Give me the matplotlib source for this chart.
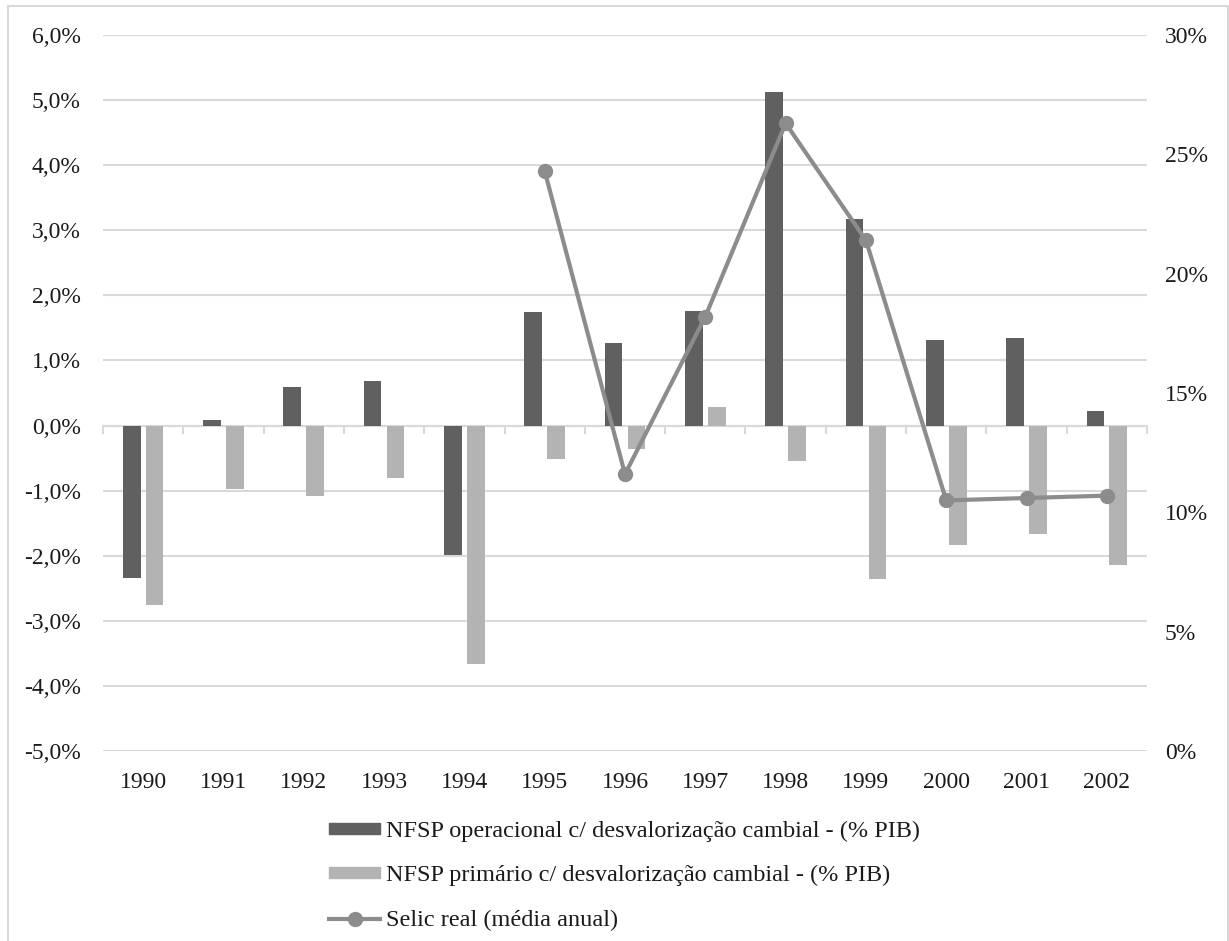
import numpy as np
import matplotlib
matplotlib.use("Agg")
import matplotlib.pyplot as plt
from matplotlib.ticker import FuncFormatter, FixedLocator
from matplotlib.patches import Rectangle

plt.rcParams['font.family'] = ['Liberation Serif', 'DejaVu Serif']

# data
anos = ['1990', '1991', '1992', '1993', '1994', '1995', '1996',
        '1997', '1998', '1999', '2000', '2001', '2002']
nfsp_operacional = [-2.34, 0.08, 0.59, 0.68, -1.99, 1.74, 1.27,
                    1.76, 5.13, 3.17, 1.32, 1.35, 0.23]
nfsp_primario = [-2.75, -0.98, -1.09, -0.81, -3.67, -0.51, -0.36,
                 0.28, -0.54, -2.36, -1.84, -1.67, -2.15]
selic_anos = ['1995', '1996', '1997', '1998', '1999', '2000', '2001', '2002']
selic_real = [24.3, 11.6, 18.2, 26.3, 21.4, 10.5, 10.6, 10.7]

label_op = 'NFSP operacional c/ desvalorização cambial - (% PIB)'
label_pr = 'NFSP primário c/ desvalorização cambial - (% PIB)'
label_selic = 'Selic real (média anual)'

cor_escura = '#606060'
cor_clara = '#b3b3b3'
cor_linha = '#8c8c8c'
cor_grade = '#d9d9d9'
cor_texto = '#1a1a1a'

W, H = 1229, 941
fig = plt.figure(figsize=(W / 100, H / 100), dpi=100)
ax = fig.add_axes([103 / W, 1 - 751 / H, (1147 - 103) / W, (751 - 35) / H])

x = np.arange(len(anos))
largura = 0.22
desloc = 0.143
ax.bar(x - desloc, nfsp_operacional, largura, color=cor_escura, zorder=2)
ax.bar(x + desloc, nfsp_primario, largura, color=cor_clara, zorder=2)

ymin, ymax = -5, 6
ax.set_ylim(ymin, ymax)
ax.set_xlim(-0.5, len(anos) - 0.5)
ax.yaxis.set_major_locator(FixedLocator(np.arange(ymin, ymax + 1)))
ax.yaxis.set_major_formatter(FuncFormatter(lambda v, p: f'{v:.1f}%'.replace('.', ',')))
ax.grid(axis='y', color=cor_grade, linewidth=1.5, zorder=0)
ax.set_axisbelow(True)
for s in ax.spines.values():
    s.set_visible(False)
ax.set_xticks(x)
ax.set_xticklabels(anos)
ax.tick_params(axis='both', length=0, labelsize=17, colors=cor_texto)
ax.tick_params(axis='y', pad=16)
ax.tick_params(axis='x', pad=15)

# category axis line at zero with boundary ticks
loc0 = (0 - ymin) / (ymax - ymin)
sec = ax.secondary_xaxis(loc0)
sec.set_xticks(np.arange(len(anos) + 1) - 0.5)
sec.set_xticklabels([])
sec.tick_params(axis='x', direction='out', length=6, width=1.5, color=cor_grade)
sec.spines['bottom'].set_color(cor_grade)
sec.spines['bottom'].set_linewidth(1.5)
sec.spines['top'].set_visible(False)
sec.xaxis.set_ticks_position('bottom')

ax2 = ax.twinx()
xs = [anos.index(a) for a in selic_anos]
ax2.plot(xs, selic_real, color=cor_linha, linewidth=3, marker='o',
         markersize=10, zorder=3)
ax2.set_ylim(0, 30)
ax2.yaxis.set_major_locator(FixedLocator(np.arange(0, 31, 5)))
ax2.yaxis.set_major_formatter(FuncFormatter(lambda v, p: f'{v:.0f}%'))
ax2.tick_params(axis='y', length=0, labelsize=17, pad=13, colors=cor_texto)
for s in ax2.spines.values():
    s.set_visible(False)

# legend
h_op = Rectangle((0, 0), 1, 1, color=cor_escura)
h_pr = Rectangle((0, 0), 1, 1, color=cor_clara)
h_se = plt.Line2D([], [], color=cor_linha, linewidth=3, marker='o', markersize=10)
fig.legend([h_op, h_pr, h_se], [label_op, label_pr, label_selic],
           loc='upper left', bbox_to_anchor=(329 / W, 1 - 821 / H),
           frameon=False, fontsize=17.5, handlelength=2.1, handleheight=0.3,
           handletextpad=0.25, labelspacing=0.95, borderpad=0, borderaxespad=0,
           numpoints=1, labelcolor=cor_texto)

# outer chart border
fig.patches.append(Rectangle((8 / W, -0.01), (1228 - 8) / W, 1.01 - 6 / H,
                             transform=fig.transFigure, fill=False,
                             edgecolor=cor_grade, linewidth=1.5))

fig.savefig('out.png', dpi=100)
